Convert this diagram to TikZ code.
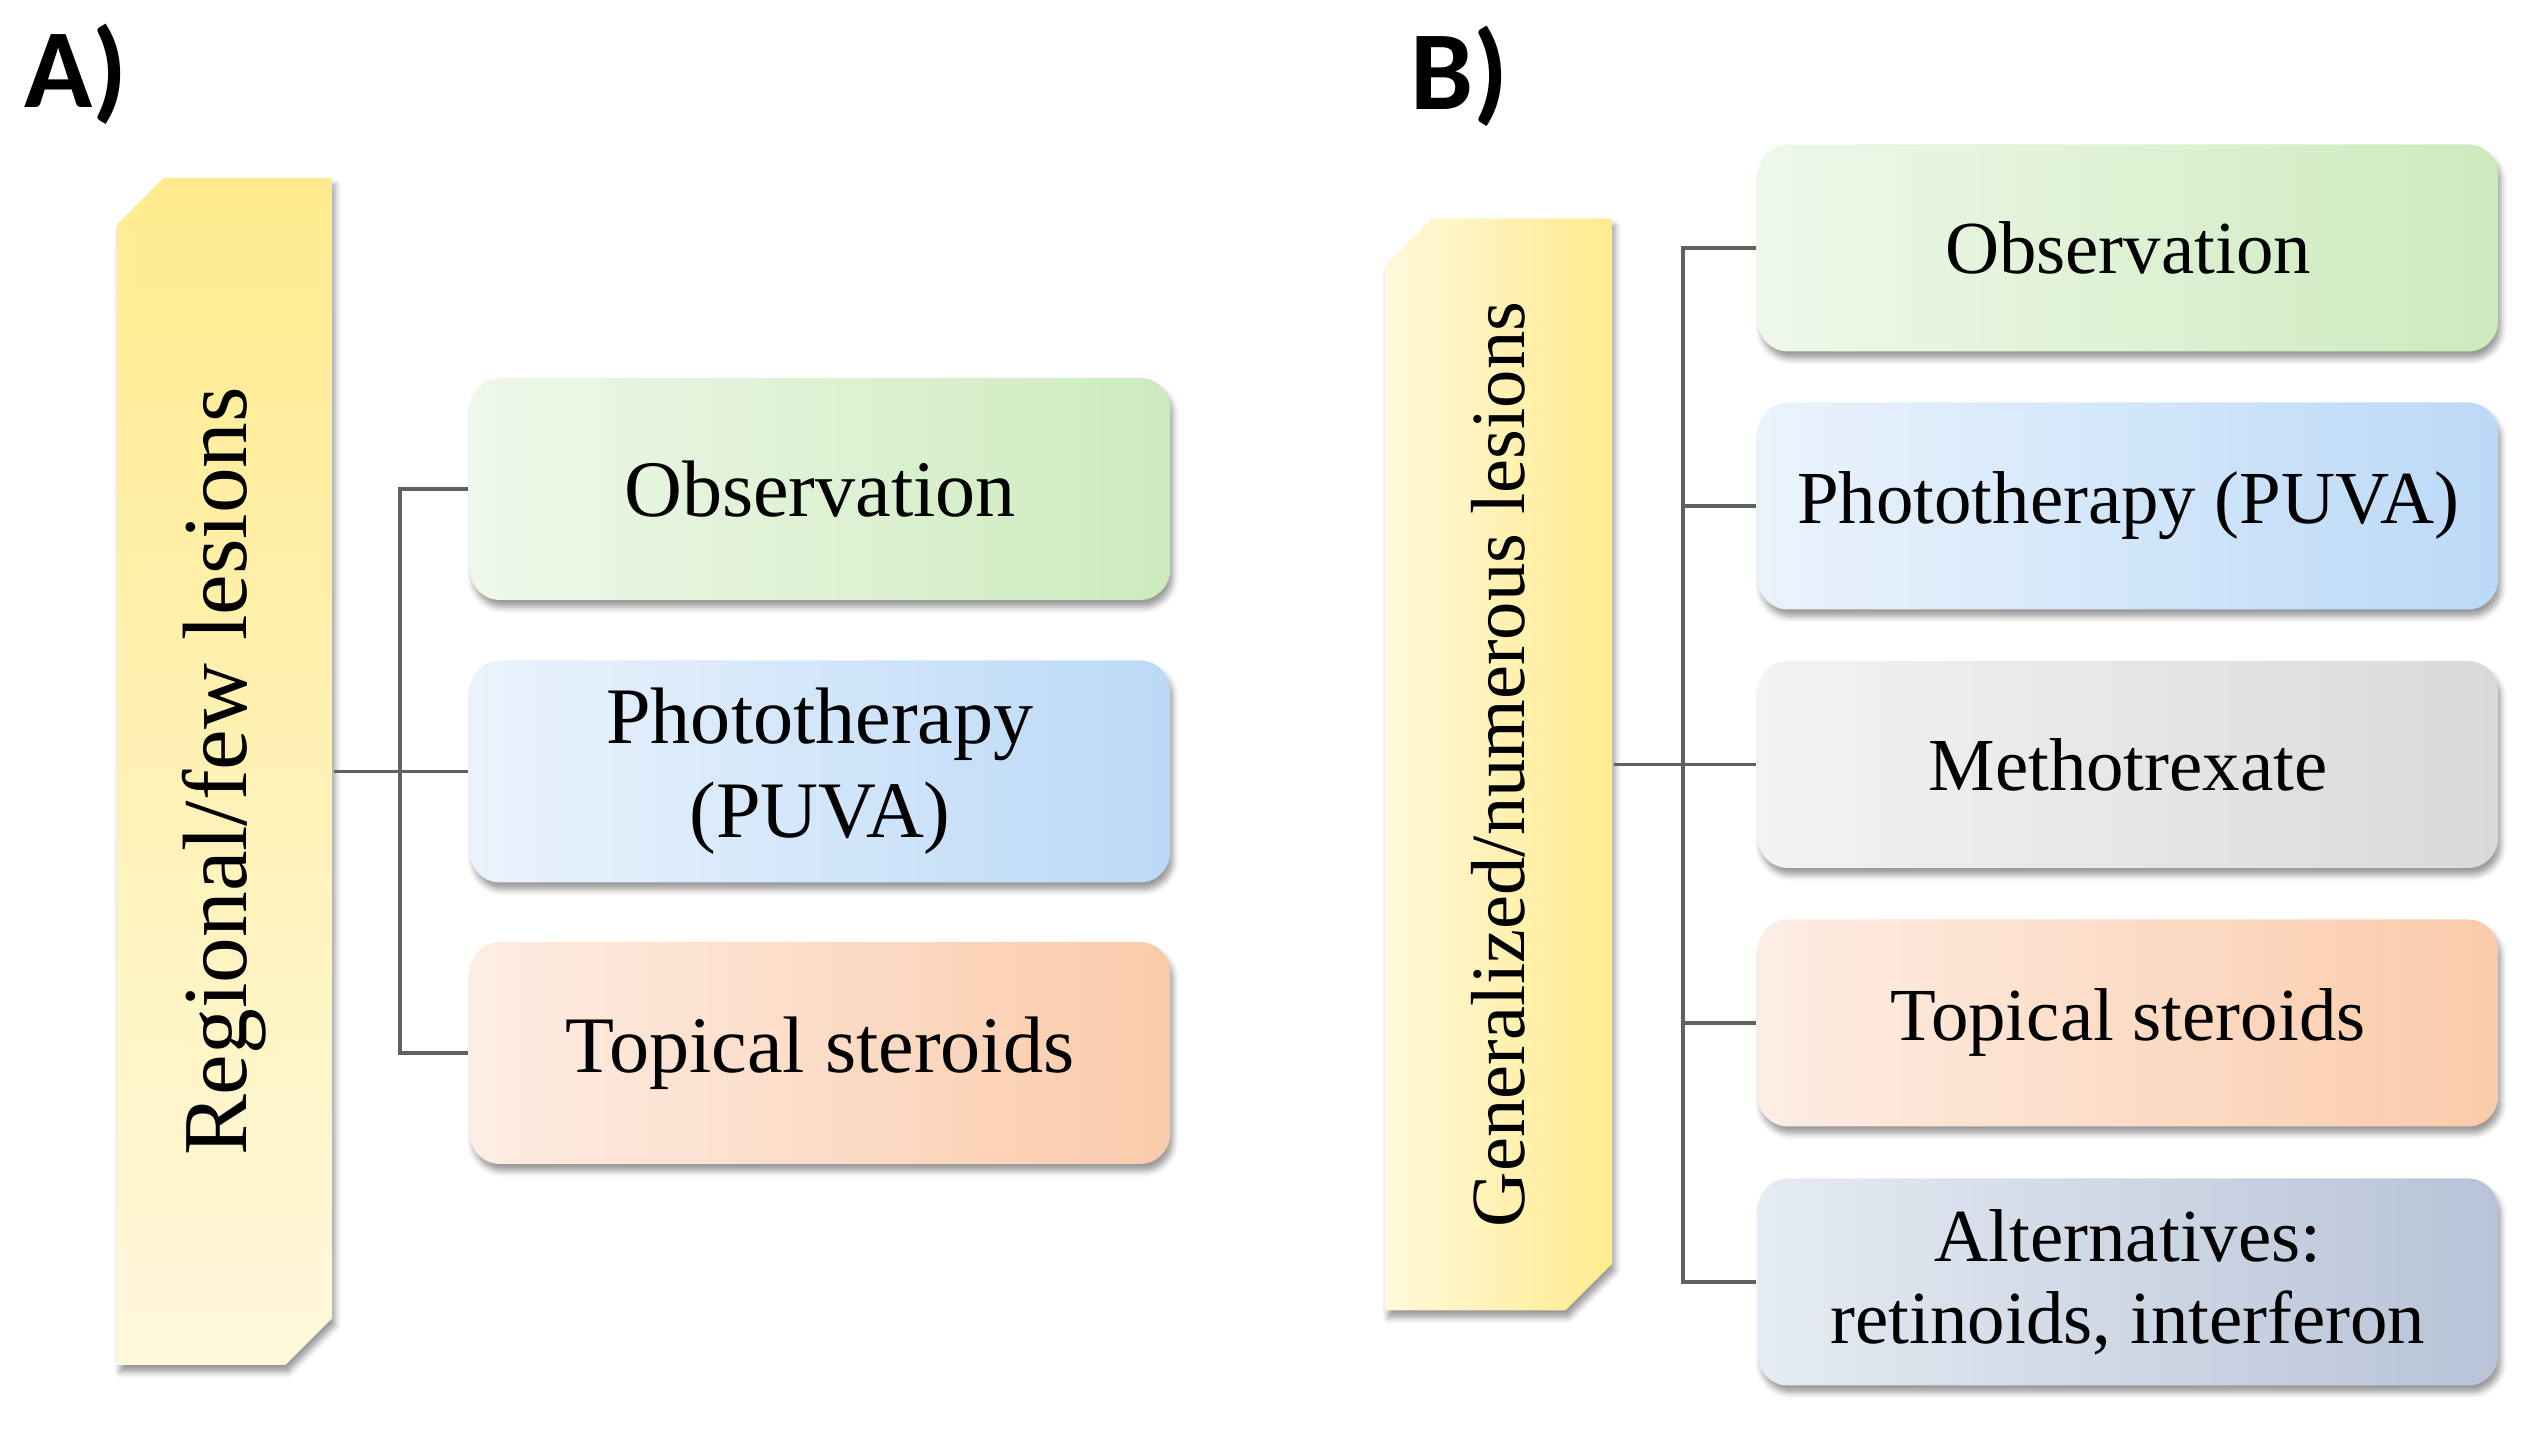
\documentclass[tikz,border=0pt]{standalone}
\usepackage{fontspec}
\setmainfont{Liberation Serif}
\newfontfamily\panelfont{Carlito}
\usetikzlibrary{shapes.misc,shadows.blur}
\definecolor{yelDark}{HTML}{FFEB8E}
\definecolor{yelLight}{HTML}{FFF8DC}
\definecolor{greenL}{HTML}{EFF8EA}
\definecolor{greenR}{HTML}{CCEBBD}
\definecolor{blueL}{HTML}{EAF3FC}
\definecolor{blueR}{HTML}{BBD9F7}
\definecolor{grayL}{HTML}{F3F3F3}
\definecolor{grayR}{HTML}{D9D9D9}
\definecolor{orangeL}{HTML}{FDEDE3}
\definecolor{orangeR}{HTML}{FACBAA}
\definecolor{slateL}{HTML}{E6EBF3}
\definecolor{slateR}{HTML}{B7C3D7}
\definecolor{linegray}{HTML}{606060}
\begin{document}
\begin{tikzpicture}[line width=1pt,
  tallbox/.style={chamfered rectangle, chamfered rectangle corners={north west,south east},
    chamfered rectangle xsep=0.36cm, inner sep=0pt,
    blur shadow={shadow xshift=0.03cm, shadow yshift=-0.07cm, shadow blur radius=0.06cm}},
  leafbox/.style={rectangle, rounded corners=0.3cm, inner sep=0pt, align=center,
    blur shadow={shadow xshift=0.03cm, shadow yshift=-0.07cm, shadow blur radius=0.06cm}},
  leafA/.style={leafbox, minimum width=7cm, minimum height=2.22cm, font=\fontsize{22.8}{26.7}\selectfont},
  leafB/.style={leafbox, minimum width=7.4cm, minimum height=2.07cm, font=\fontsize{21.3}{23.4}\selectfont},
  link/.style={draw=linegray},
  panel/.style={anchor=base west, inner sep=0pt, font=\panelfont\bfseries\fontsize{32}{32}\selectfont}]
\useasboundingbox (0,0) rectangle (25.31,-14.33);
\node[panel] (labA) at (0.23,-1.08) {A)};
\node[panel] (labB) at (14.09,-1.10) {B)};
\node[tallbox, minimum width=2.15cm, minimum height=11.87cm, top color=yelDark, bottom color=yelLight,
  font=\fontsize{26}{30}\selectfont] (reg) at (2.245,-7.715) {\rotatebox{90}{Regional/few lesions}};
\node[leafA, left color=greenL, right color=greenR] (obsA) at (8.2,-4.89) {Observation};
\node[leafA, left color=blueL, right color=blueR] (photoA) at (8.2,-7.715) {Phototherapy\\(PUVA)};
\node[leafA, left color=orangeL, right color=orangeR] (topA) at (8.2,-10.53) {Topical steroids};
\coordinate (trunkA) at (4.0,0);
\draw[link] (obsA.west) -- (obsA.west -| trunkA) |- (topA.west);
\draw[link] (reg.east) -- (photoA.west);
\node[tallbox, minimum width=2.27cm, minimum height=10.92cm, left color=yelLight, right color=yelDark,
  font=\fontsize{21.8}{26}\selectfont] (gen) at (14.985,-7.645) {\rotatebox{90}{Generalized/numerous lesions}};
\node[leafB, left color=greenL, right color=greenR] (obsB) at (21.28,-2.48) {Observation};
\node[leafB, left color=blueL, right color=blueR] (photoB) at (21.28,-5.06) {Phototherapy (PUVA)};
\node[leafB, left color=grayL, right color=grayR] (methB) at (21.28,-7.645) {Methotrexate};
\node[leafB, left color=orangeL, right color=orangeR] (topB) at (21.28,-10.23) {Topical steroids};
\node[leafB, left color=slateL, right color=slateR] (altB) at (21.28,-12.82) {Alternatives:\\retinoids, interferon};
\coordinate (trunkB) at (16.83,0);
\draw[link] (obsB.west) -- (obsB.west -| trunkB) |- (altB.west);
\draw[link] (gen.east) -- (methB.west);
\draw[link] (photoB.west) -- (photoB.west -| trunkB);
\draw[link] (topB.west) -- (topB.west -| trunkB);
\end{tikzpicture}
\end{document}
